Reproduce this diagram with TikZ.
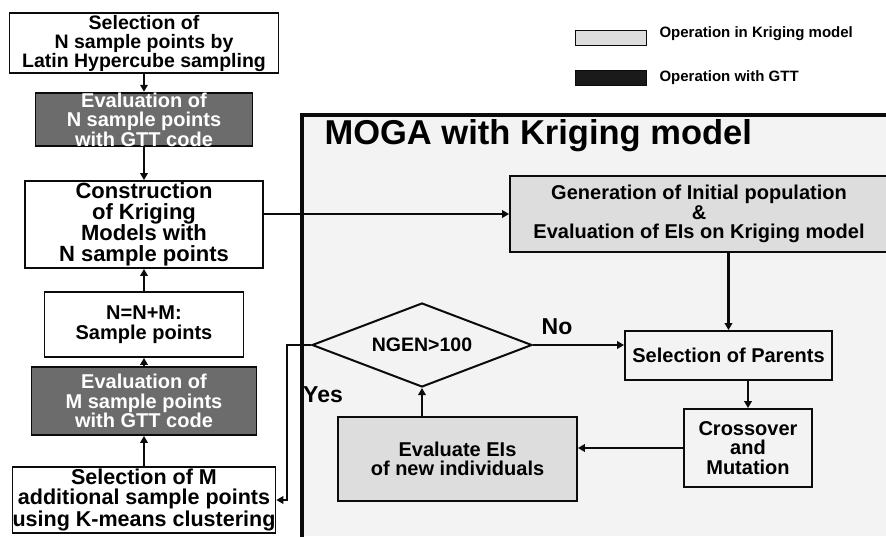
\documentclass[tikz,border=0pt]{standalone}
\usepackage{fontspec}
\setmainfont{Liberation Sans}
\usetikzlibrary{positioning,arrows.meta,shapes.geometric}
\definecolor{ink}{HTML}{0B0B0B}
\definecolor{gttgray}{HTML}{6C6C6C}
\definecolor{gttdark}{HTML}{1A1A1A}
\definecolor{kriggray}{HTML}{DDDDDD}
\definecolor{paper}{HTML}{F3F3F3}
\tikzset{
  box/.style={draw=ink, line width=1.8pt, fill=white, align=center, inner sep=0pt,
    font=\bfseries\fontsize{20}{19.5}\selectfont},
  gttbox/.style={box, fill=gttgray, text=white},
  krigbox/.style={box, fill=kriggray},
  legtext/.style={anchor=west, font=\bfseries\fontsize{15}{15}\selectfont},
  answer/.style={font=\bfseries\fontsize{23}{23}\selectfont},
  arr/.style={draw=ink, line width=2.5pt, -{Triangle[length=7pt,width=7.5pt]}},
}

\begin{document}
\begin{tikzpicture}[x=1pt,y=-1pt]
      \clip (0,0) rectangle (886,536);
      \fill[white] (0,0) rectangle (886,536);
      \fill[paper] (302,115) rectangle (886,536);
      \draw[ink, line width=3.2pt] (302,540) -- (302,115) -- (890,115);
      \node[anchor=base west, font=\bfseries\fontsize{34.5}{34.5}\selectfont] (title) at (321,144) {MOGA with Kriging model};

      \node[krigbox, minimum width=71pt, minimum height=15pt, line width=1pt] (legkrig) at (610.5,37.5) {};
      \node[legtext] (legkrigtext) at (656,34) {Operation in Kriging model};
      \node[box, fill=gttdark, minimum width=71pt, minimum height=15pt, line width=1pt] (leggtt) at (610.5,77.5) {};
      \node[legtext] (leggtttext) at (656,78) {Operation with GTT};

      \node[box, minimum width=269pt, minimum height=60pt, font=\bfseries\fontsize{19.5}{19}\selectfont] (selectn) at (144,43)
        {Selection of\\N sample points by\\Latin Hypercube sampling};
      \node[gttbox, minimum width=217pt, minimum height=51pt] (evaln) at (144,119.5)
        {Evaluation of\\N sample points\\with GTT code};
      \node[box, minimum width=238pt, minimum height=87pt, font=\bfseries\fontsize{22}{21}\selectfont] (buildkrig) at (144,224.5)
        {Construction\\of Kriging\\Models with\\N sample points};
      \node[box, minimum width=199pt, minimum height=65pt] (update) at (144,324.5)
        {N=N+M:\\Sample points};
      \node[gttbox, minimum width=225pt, minimum height=68pt] (evalm) at (144,401)
        {Evaluation of\\M sample points\\with GTT code};
      \node[box, minimum width=260pt, minimum height=66pt, font=\bfseries\fontsize{21.5}{20}\selectfont] (selectm) at (144,500)
        {Selection of M\\additional sample points\\using K-means clustering};

      \node[krigbox, minimum width=378pt, minimum height=76pt] (initpop) at (699,214)
        {Generation of Initial population\\\&\\Evaluation of EIs on Kriging model};
      \node[box, fill=paper, minimum width=207pt, minimum height=49pt] (parents) at (728.5,355.5)
        {Selection of Parents};
      \node[box, fill=paper, minimum width=128pt, minimum height=78pt] (crossover) at (748,448)
        {Crossover\\and\\Mutation};
      \node[krigbox, minimum width=239pt, minimum height=84pt] (evalei) at (457.5,459)
        {Evaluate EIs\\of new individuals};
      \node[draw=ink, line width=2pt, fill=paper, diamond, aspect=2.6, minimum width=220pt, minimum height=84pt,
        inner sep=0pt, font=\bfseries\fontsize{19.5}{19.5}\selectfont] (ngen) at (422,345) {NGEN>100};
      \node[answer] (nolabel) at (557,327) {No};
      \node[answer] (yeslabel) at (323,395) {Yes};
      \coordinate (yescol) at (287,0);

      \draw[arr] (selectn) -- (evaln);
      \draw[arr] (evaln) -- (buildkrig);
      \draw[arr] (selectm) -- (evalm);
      \draw[arr] (evalm) -- (update);
      \draw[arr] (update) -- (buildkrig);
      \draw[arr] (initpop.west -| buildkrig.east) -- (initpop.west);
      \draw[arr] (parents.north |- initpop.south) -- (parents.north);
      \draw[arr] (crossover.north |- parents.south) -- (crossover.north);
      \draw[arr] (crossover.west) -- (crossover.west -| evalei.east);
      \draw[arr] (ngen.south |- evalei.north) -- (ngen.south);
      \draw[arr] (ngen.east) -- (ngen.east -| parents.west);
      \draw[arr] (ngen.west) -- (ngen.west -| yescol) |- (selectm.east);
    \end{tikzpicture}
\end{document}
